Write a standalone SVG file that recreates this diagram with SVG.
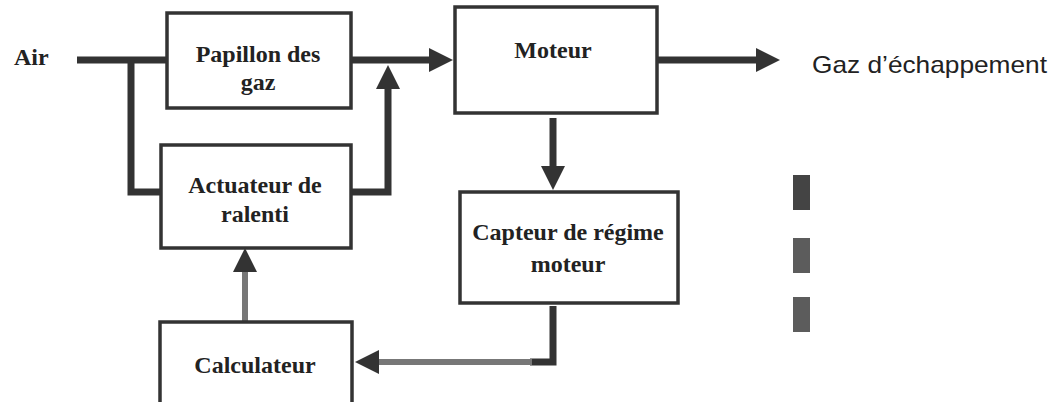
<svg xmlns="http://www.w3.org/2000/svg" width="1059" height="402" viewBox="0 0 1059 402">
  <style>
    .box { fill: #fff; stroke: #333; stroke-width: 3.5; }
    .lbl { font-family: "Liberation Serif", "Times New Roman", serif; font-weight: bold; font-size: 24px; fill: #222; text-anchor: middle; }
    .flow { fill: none; stroke: #333; stroke-width: 7; stroke-linejoin: miter; stroke-linecap: butt; }
    .sig { fill: none; stroke: #777; stroke-width: 6; stroke-linecap: butt; }
    .bar { stroke: none; }
  </style>
  <defs>
    <marker id="head" markerUnits="userSpaceOnUse" markerWidth="24" markerHeight="26" viewBox="0 0 24 26" refX="4" refY="13" orient="auto">
      <path d="M0,1 L24,13 L0,25 z" fill="#333"/>
    </marker>
  </defs>

  <rect width="1059" height="402" fill="#fff"/>

  <!-- connectors -->
  <g id="connectors">
    <path class="flow" d="M77,60 H168"/>
    <path class="flow" d="M131,60 V192 H162"/>
    <path class="flow" d="M350,60 H433" marker-end="url(#head)"/>
    <path class="flow" d="M350,192 H388 V85" marker-end="url(#head)"/>
    <path class="flow" d="M656,60 H760" marker-end="url(#head)"/>
    <path class="flow" d="M553,118 V170" marker-end="url(#head)"/>
    <path class="flow" d="M553,306 V362 H530"/>
    <path class="sig" d="M532,362 H375" marker-end="url(#head)"/>
    <path class="sig" d="M245,322 V268" stroke-width="5" marker-end="url(#head)"/>
  </g>

  <!-- inlet and exhaust labels -->
  <text id="air" class="lbl" x="14" y="65" style="text-anchor:start">Air</text>
  <text id="exhaust" x="812" y="73" font-family="Liberation Sans, Arial, sans-serif" font-size="24" fill="#222" textLength="235" lengthAdjust="spacingAndGlyphs">Gaz d’échappement</text>

  <g id="papillon">
    <rect class="box" x="167" y="13" width="184" height="95"/>
    <text class="lbl" x="258" y="62">Papillon des</text>
    <text class="lbl" x="258" y="90">gaz</text>
  </g>

  <g id="moteur">
    <rect class="box" x="455" y="7" width="202" height="106"/>
    <text class="lbl" x="553" y="58">Moteur</text>
  </g>

  <g id="actuateur">
    <rect class="box" x="161" y="145" width="190" height="103"/>
    <text class="lbl" x="255" y="193">Actuateur de</text>
    <text class="lbl" x="255" y="222">ralenti</text>
  </g>

  <g id="capteur">
    <rect class="box" x="460" y="192" width="218" height="111"/>
    <text class="lbl" x="568" y="240">Capteur de régime</text>
    <text class="lbl" x="568" y="272">moteur</text>
  </g>

  <g id="calculateur">
    <rect class="box" x="160" y="322" width="192" height="84"/>
    <text class="lbl" x="255" y="373">Calculateur</text>
  </g>

  <g id="bars">
    <rect class="bar" x="793" y="175" width="17" height="35" fill="#444"/>
    <rect class="bar" x="793" y="238" width="17" height="35" fill="#5c5c5c"/>
    <rect class="bar" x="793" y="297" width="17" height="35" fill="#5c5c5c"/>
  </g>
</svg>
